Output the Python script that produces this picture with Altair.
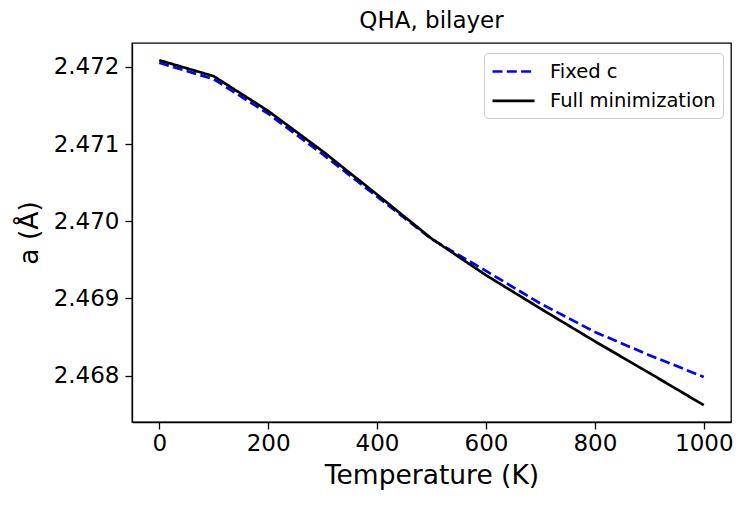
import altair as alt
import pandas as pd

temperature = [0, 100, 200, 300, 400, 500, 600, 700, 800, 900, 1000]
fixed_c = [2.472054, 2.471841, 2.471394, 2.470869, 2.470320, 2.469770,
           2.469358, 2.468935, 2.468567, 2.468266, 2.467984]
full_min = [2.472087, 2.471880, 2.471430, 2.470908, 2.470347, 2.469777,
            2.469302, 2.468870, 2.468445, 2.468035, 2.467618]
series_names = ["Fixed c", "Full minimization"]
x_ticks = [0, 200, 400, 600, 800, 1000]
y_ticks = [2.468, 2.469, 2.470, 2.471, 2.472]

rows = []
for t, a in zip(temperature, fixed_c):
    rows.append({"T": t, "a": a, "series": series_names[0]})
for t, a in zip(temperature, full_min):
    rows.append({"T": t, "a": a, "series": series_names[1]})
df = pd.DataFrame(rows)

FONT = "DejaVu Sans"

legend_kw = dict(
    title=None, orient="none", legendX=352, legendY=10,
    fillColor="white", strokeColor="#cccccc", cornerRadius=4, padding=7,
    symbolType="M-2.1,0H2.1", symbolSize=400, symbolStrokeWidth=2.7,
    symbolOffset=11, symbolFillColor="transparent",
    labelFontSize=19.5, labelFont=FONT, labelColor="black", labelOffset=25,
    labelLimit=0, rowPadding=8.4,
)

chart = alt.Chart(df).mark_line(strokeWidth=2.7, clip=True).encode(
    x=alt.X("T:Q",
            scale=alt.Scale(domain=[-50, 1050], nice=False, zero=False),
            axis=alt.Axis(values=x_ticks, title="Temperature (K)", format="d",
                          labelPadding=3, titlePadding=7)),
    y=alt.Y("a:Q",
            scale=alt.Scale(domain=[2.4674, 2.47231], nice=False, zero=False),
            axis=alt.Axis(values=y_ticks, title="a (Å)", format=".3f",
                          labelPadding=6, titlePadding=10)),
    color=alt.Color("series:N",
                    scale=alt.Scale(domain=series_names, range=["blue", "black"]),
                    legend=alt.Legend(**legend_kw)),
    strokeDash=alt.StrokeDash("series:N",
                              scale=alt.Scale(domain=series_names, range=[[10, 4.3], [1, 0]]),
                              legend=alt.Legend(**legend_kw)),
).properties(
    width=599, height=379,
    title=alt.TitleParams("QHA, bilayer", font=FONT, fontSize=23,
                          fontWeight="normal", color="black", offset=10),
    autosize=alt.AutoSizeParams(type="none"),
    padding={"left": 124, "top": 35, "right": 8, "bottom": 77},
).configure_view(
    stroke="black", strokeWidth=1.3
).configure_axis(
    labelFont=FONT, titleFont=FONT, labelFontSize=23, titleFontSize=26.5,
    titleFontWeight="normal", labelColor="black", titleColor="black",
    tickColor="black", tickSize=7, tickWidth=1.3, domainColor="black",
    domainWidth=1.3, grid=False,
)

chart.save("out.html", embed_options={"renderer": "svg", "actions": False})
